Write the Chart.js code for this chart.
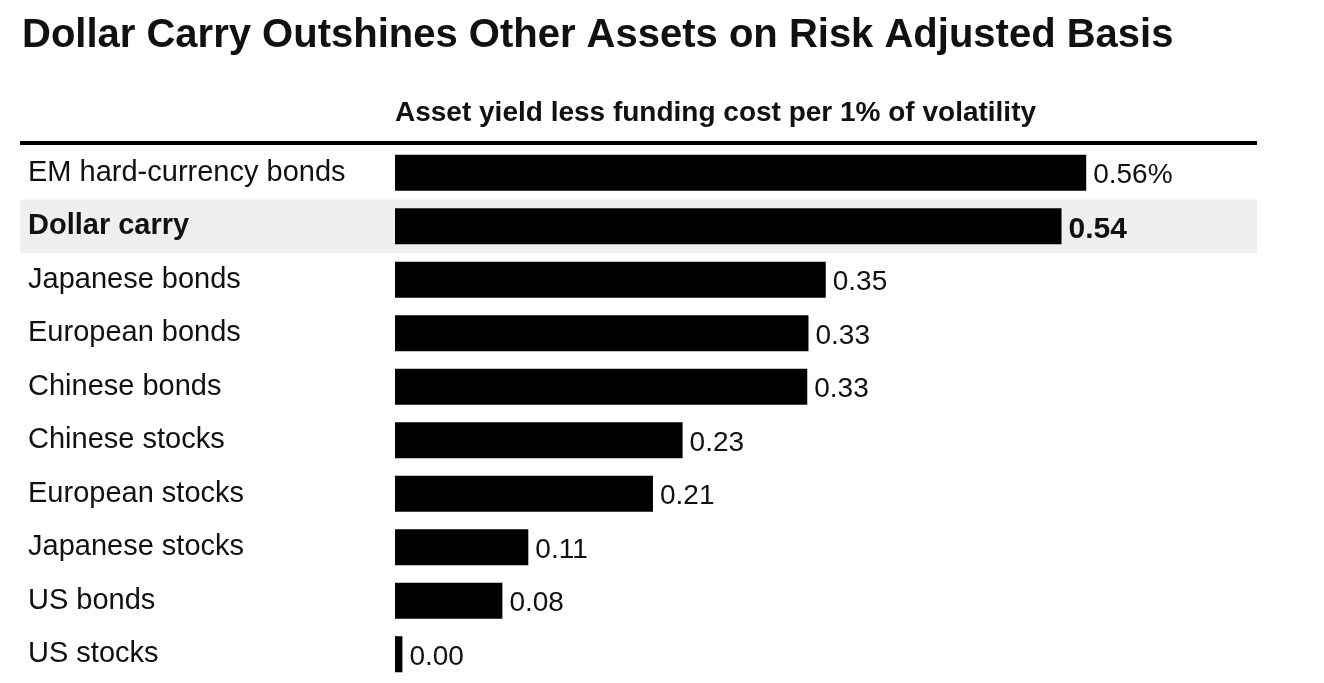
<!DOCTYPE html>
<html lang="en">
<head>
<meta charset="utf-8">
<title>Dollar Carry Outshines Other Assets on Risk Adjusted Basis</title>
<script src="https://cdn.jsdelivr.net/npm/chart.js@4/dist/chart.umd.min.js"></script>
<style>
    html, body { margin: 0; padding: 0; background: #ffffff; }
    #chart-carry { display: block; }
</style>
</head>
<body>
<canvas id="chart-carry" width="1324" height="683"></canvas>
<script>
// ============================================================================
// DOLLAR CARRY CHART
// ============================================================================

const TITLE = 'Dollar Carry Outshines Other Assets on Risk Adjusted Basis';
const SUBTITLE = 'Asset yield less funding cost per 1% of volatility';

const assets = [
    'EM hard-currency bonds',
    'Dollar carry',
    'Japanese bonds',
    'European bonds',
    'Chinese bonds',
    'Chinese stocks',
    'European stocks',
    'Japanese stocks',
    'US bonds',
    'US stocks'
];

const values = [0.56, 0.54, 0.349, 0.335, 0.334, 0.233, 0.209, 0.108, 0.087, 0.006];

// printed next to each bar
const valueLabels = ['0.56%', '0.54', '0.35', '0.33', '0.33', '0.23', '0.21', '0.11', '0.08', '0.00'];

const highlightIndex = 1;

const FONT = "'Liberation Sans', Arial, Helvetica, sans-serif";
const INK = '#111111';

document.addEventListener('DOMContentLoaded', () => {
    drawChart();
});

/**
 * Highlight band behind the "Dollar carry" row (drawn before the axis labels)
 */
const bandPlugin = {
    id: 'band',
    beforeDraw(chart) {
        const ctx = chart.ctx;
        const y = chart.scales.y;
        const half = (y.getPixelForValue(1) - y.getPixelForValue(0)) / 2;
        const cy = y.getPixelForValue(highlightIndex);

        ctx.save();
        ctx.fillStyle = '#efefef';
        ctx.fillRect(20, cy - half, 1237, half * 2);
        ctx.restore();
    }
};

/**
 * Title, subtitle and the heavy rule
 */
const headerPlugin = {
    id: 'header',
    afterDraw(chart) {
        const ctx = chart.ctx;
        ctx.save();
        ctx.fillStyle = INK;
        ctx.textAlign = 'left';
        ctx.textBaseline = 'alphabetic';

        ctx.font = 'bold 40px ' + FONT;
        ctx.fillText(TITLE, 22, 47, 1156);

        ctx.font = 'bold 28px ' + FONT;
        ctx.fillText(SUBTITLE, 395, 121, 642);

        ctx.fillStyle = '#000000';
        ctx.fillRect(20, 141, 1237, 4);
        ctx.restore();
    }
};

/**
 * Value labels at the end of each bar
 */
const valueLabelPlugin = {
    id: 'valueLabels',
    afterDatasetsDraw(chart) {
        const ctx = chart.ctx;
        const bars = chart.getDatasetMeta(0).data;

        ctx.save();
        ctx.fillStyle = INK;
        ctx.textAlign = 'left';
        ctx.textBaseline = 'middle';
        bars.forEach((bar, i) => {
            ctx.font = i === highlightIndex ? 'bold 30px ' + FONT : '28px ' + FONT;
            ctx.fillText(valueLabels[i], bar.x + 7, bar.y + 3);
        });
        ctx.restore();
    }
};

function drawChart() {
    const el = document.getElementById('chart-carry');

    new Chart(el, {
        type: 'bar',
        data: {
            labels: assets,
            datasets: [{
                data: values,
                backgroundColor: '#000000',
                borderWidth: 0,
                categoryPercentage: 1,
                barPercentage: 0.674
            }]
        },
        options: {
            indexAxis: 'y',
            responsive: false,
            animation: false,
            devicePixelRatio: 1,
            layout: {
                padding: { left: 28, right: 65, top: 146, bottom: 2 }
            },
            plugins: {
                legend: { display: false },
                title: { display: false },
                tooltip: { enabled: false }
            },
            scales: {
                x: {
                    display: false,
                    min: 0,
                    max: 0.7
                },
                y: {
                    grid: { display: false },
                    border: { display: false },
                    afterFit(scale) {
                        scale.width = 367;
                        scale.paddingTop = 0;
                        scale.paddingBottom = 0;
                    },
                    ticks: {
                        crossAlign: 'far',
                        color: INK,
                        font: (c) => ({
                            family: FONT,
                            size: 29,
                            weight: c.index === highlightIndex ? 'bold' : 'normal'
                        })
                    }
                }
            }
        },
        plugins: [bandPlugin, headerPlugin, valueLabelPlugin]
    });
}
</script>
</body>
</html>
